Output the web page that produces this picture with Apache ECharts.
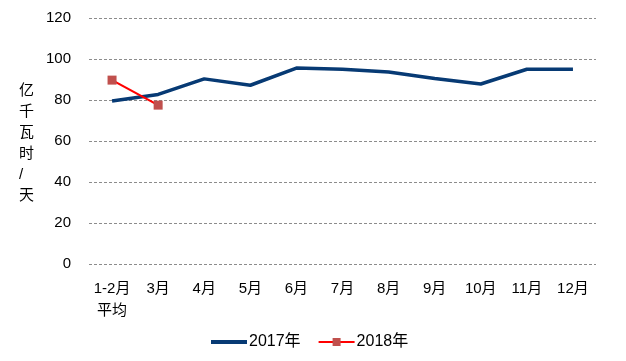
<!DOCTYPE html>
<html><head><meta charset="utf-8">
<script src="https://cdn.jsdelivr.net/npm/echarts@6/dist/echarts.min.js"></script>
<style>html,body{margin:0;padding:0;background:#fff}#c{width:626px;height:361px}</style>
</head><body><div id="c"></div>
<script>
const categories = ['1-2月\n平均','3月','4月','5月','6月','7月','8月','9月','10月','11月','12月'];
const s2017 = [79.5, 82.7, 90.3, 87.2, 95.6, 95.0, 93.7, 90.5, 87.8, 95.0, 95.0];
const s2018 = [89.7, 77.5];
const yTicks = {min: 0, max: 120, interval: 20};
const FONT = '"Liberation Sans","Noto Sans CJK SC",sans-serif';
const chart = echarts.init(document.getElementById('c'));
chart.setOption({
  animation: false,
  grid: {left: 89, right: 30, top: 18, bottom: 97},
  xAxis: {
    type: 'category', data: categories, boundaryGap: true,
    axisLine: {show: false}, axisTick: {show: false},
    axisLabel: {color: '#000', fontSize: 15, fontFamily: FONT, margin: 14, lineHeight: 22, interval: 0}
  },
  yAxis: {
    type: 'value', min: yTicks.min, max: yTicks.max, interval: yTicks.interval,
    axisLine: {show: false}, axisTick: {show: false},
    axisLabel: {color: '#000', fontSize: 15, fontFamily: FONT, margin: 18},
    splitLine: {lineStyle: {color: '#8c8c8c', type: [3, 2], width: 1}}
  },
  graphic: [{
    type: 'text', left: 19, top: 80,
    style: {text: '亿\n千\n瓦\n时\n/\n天', fontSize: 15, lineHeight: 21, fill: '#000', fontFamily: FONT, align: 'center'}
  }],
  legend: {
    bottom: 6, left: 206, itemGap: 17, itemWidth: 36, itemHeight: 10,
    textStyle: {fontSize: 16, color: '#000', fontFamily: FONT, padding: [0,0,0,-3]},
    data: [{name: '2017年', icon: 'path://M0,0h36v4h-36z'}, {name: '2018年'}]
  },
  series: [
    {name: '2017年', type: 'line', data: s2017, symbol: 'none',
     lineStyle: {color: '#073a74', width: 3.5}, itemStyle: {color: '#073a74'}},
    {name: '2018年', type: 'line', data: s2018, symbol: 'rect', symbolSize: 9,
     lineStyle: {color: '#ff0000', width: 2.2}, itemStyle: {color: '#c0504d'}}
  ]
});
</script></body></html>
